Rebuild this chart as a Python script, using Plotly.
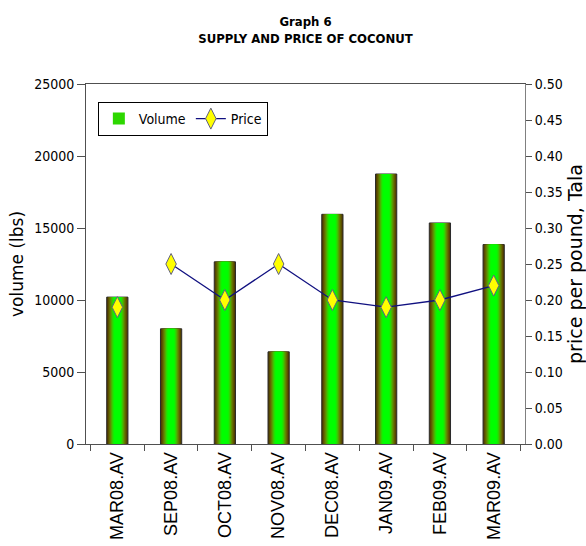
import plotly.graph_objects as go

categories = ["MAR08.AV", "SEP08.AV", "OCT08.AV", "NOV08.AV",
              "DEC08.AV", "JAN09.AV", "FEB09.AV", "MAR09.AV"]
volume = [10200, 8000, 12650, 6400, 15950, 18750, 15350, 13850]
price = [0.19, 0.25, 0.20, 0.25, 0.20, 0.19, 0.20, 0.22]

NARROW = "DejaVu Sans Condensed, Liberation Sans Narrow, sans-serif"
REG = "Liberation Sans, Arial, sans-serif"

# gradient layers for the bars (outer -> inner)
layers = [
    (0.395, "rgb(80,58,0)"),
    (0.35, "rgb(92,80,0)"),
    (0.31, "rgb(100,108,0)"),
    (0.27, "rgb(95,140,0)"),
    (0.23, "rgb(75,178,0)"),
    (0.19, "rgb(45,215,0)"),
    (0.15, "rgb(15,243,0)"),
    (0.11, "rgb(0,255,0)"),
]

fig = go.Figure()
for i, (w, c) in enumerate(layers):
    fig.add_trace(go.Bar(
        x=categories, y=volume, width=w,
        marker=dict(color=c,
                    line=dict(color="#2a2a2a", width=1) if i == 0 else dict(width=0)),
        name="Volume", showlegend=(i == 5), legendgroup="vol",
        hoverinfo="skip" if i else None,
    ))

fig.add_trace(go.Scatter(
    x=categories[1:], y=price[1:], yaxis="y2", mode="lines+markers",
    name="Price", legendgroup="price",
    line=dict(color="#101080", width=1.3),
    marker=dict(symbol="diamond-tall", size=15, color="#ffff00",
                line=dict(color="#606080", width=1)),
))
fig.add_trace(go.Scatter(
    x=categories[:1], y=price[:1], yaxis="y2", mode="markers",
    name="Price", legendgroup="price", showlegend=False,
    marker=dict(symbol="diamond-tall", size=15, color="#ffff00",
                line=dict(color="#606080", width=1)),
))

fig.update_layout(
    width=586, height=546,
    margin=dict(l=86, r=61, t=84, b=102, autoexpand=False),
    paper_bgcolor="white", plot_bgcolor="white",
    barmode="overlay",
    title=dict(text="<b>Graph 6<br>SUPPLY AND PRICE OF COCONUT</b>",
               x=0.5, xref="paper", xanchor="center",
               y=1 - 26 / 546, yref="container", yanchor="top",
               font=dict(family=NARROW, size=13, color="black")),
    xaxis=dict(type="category", showline=True, linecolor="#505050", linewidth=1,
               mirror=True, ticks="outside", ticklen=6, tickcolor="#505050",
               tickson="boundaries", tickangle=-90, showgrid=False,
               automargin=False,
               tickfont=dict(family=REG, size=18, color="black")),
    yaxis=dict(range=[0, 25000], dtick=5000, showline=True, linecolor="#505050",
               ticks="outside", ticklen=8, tickcolor="#505050", showgrid=False,
               zeroline=False, tickformat="d", automargin=False,
               tickfont=dict(family=NARROW, size=14, color="black"),
               title=dict(text="volume (lbs)", standoff=6,
                          font=dict(family="DejaVu Sans", size=17, color="black"))),
    yaxis2=dict(range=[0, 0.5], dtick=0.05, overlaying="y", side="right",
                showline=True, linecolor="#808080", ticks="outside", ticklen=6,
                tickcolor="#505050", showgrid=False, zeroline=False,
                tickformat=".2f", automargin=False,
                tickfont=dict(family=NARROW, size=14, color="black"),
                title=dict(text="price per pound, Tala", standoff=6,
                           font=dict(family="DejaVu Sans", size=19, color="black"))),
    legend=dict(orientation="h", x=0.027, y=0.95, xanchor="left", yanchor="top",
                bgcolor="white", bordercolor="black", borderwidth=1,
                font=dict(family=NARROW, size=14, color="black"),
                traceorder="normal"),
)

fig.write_html(
    "out.html",
    config={"displayModeBar": False},
    post_script="document.body.style.margin='0';document.body.style.overflow='hidden';",
)
